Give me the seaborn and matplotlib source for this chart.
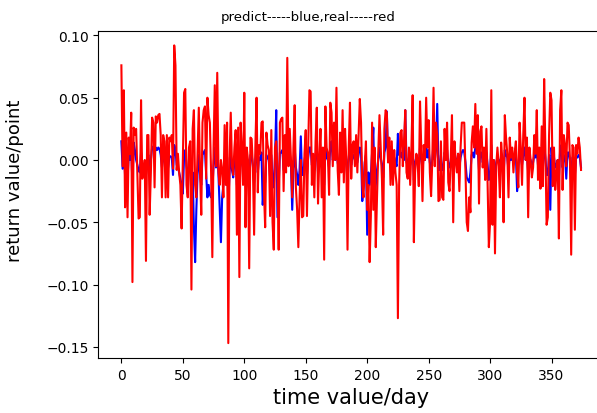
import numpy as np
import pandas as pd
import seaborn as sns
import matplotlib
matplotlib.use("Agg")
import matplotlib.pyplot as plt

# real return values (red)
real = [
    0.076, -0.005, 0.056, -0.038, 0.022, -0.046, 0.018, 0.005, 0.038, -0.098,
    0.026, 0.020, 0.025, -0.010, -0.047, -0.046, 0.048, -0.015, -0.010, 0.000,
    -0.081, 0.020, 0.020, -0.044, -0.010, 0.034, 0.030, -0.022, 0.035, 0.030,
    0.036, 0.037, 0.020, -0.030, 0.020, 0.015, -0.030, 0.020, -0.030, 0.018,
    0.015, 0.020, -0.007, 0.092, 0.076, -0.008, 0.005, -0.010, -0.020, -0.055,
    0.000, 0.054, 0.057, -0.020, -0.030, 0.010, 0.015, -0.104, 0.025, 0.040,
    -0.020, -0.030, 0.005, 0.042, -0.010, -0.044, 0.030, 0.040, 0.043, -0.015,
    0.050, 0.036, 0.030, -0.010, -0.078, 0.010, 0.060, -0.005, 0.070, -0.010,
    -0.020, 0.000, -0.008, -0.030, 0.028, -0.020, 0.030, -0.147, 0.000, 0.038,
    -0.005, -0.012, 0.010, 0.024, -0.060, 0.026, -0.094, 0.030, 0.010, -0.020,
    0.054, -0.054, 0.010, 0.000, -0.087, 0.018, 0.017, -0.005, -0.060, 0.010,
    0.050, -0.026, 0.012, 0.005, 0.030, 0.031, -0.025, -0.054, 0.022, 0.012,
    0.008, -0.045, 0.024, -0.050, -0.072, 0.010, 0.015, -0.010, -0.072, 0.030,
    0.033, 0.034, -0.025, 0.020, -0.010, 0.082, -0.005, 0.025, 0.000, -0.030,
    0.010, 0.044, -0.022, -0.040, -0.070, -0.030, 0.000, -0.046, -0.045, 0.005,
    0.024, -0.045, 0.010, 0.056, 0.055, -0.020, 0.005, -0.030, 0.015, 0.042,
    -0.035, 0.000, 0.025, -0.030, 0.010, -0.080, 0.043, 0.010, 0.005, -0.028,
    0.046, 0.038, -0.005, 0.030, 0.000, 0.058, -0.008, -0.028, 0.022, -0.010,
    0.040, -0.018, 0.025, 0.000, -0.072, 0.010, 0.046, -0.015, 0.012, 0.015,
    -0.005, 0.020, -0.010, 0.020, 0.049, 0.030, -0.020, -0.030, -0.005, 0.015,
    -0.040, -0.020, -0.082, -0.045, 0.030, -0.040, 0.010, -0.070, -0.030, 0.005,
    0.036, 0.010, -0.015, -0.060, 0.025, 0.040, 0.038, -0.002, 0.018, -0.020,
    0.015, -0.020, 0.008, -0.010, -0.020, -0.127, -0.020, 0.022, 0.024, -0.005,
    0.015, 0.040, -0.010, -0.015, 0.010, -0.020, 0.010, 0.052, -0.066, -0.010,
    0.005, 0.000, -0.021, 0.047, 0.010, -0.033, 0.012, 0.000, 0.050, 0.010,
    0.032, -0.010, -0.029, 0.000, 0.058, -0.005, 0.030, 0.020, -0.033, -0.032,
    0.015, -0.030, -0.032, 0.025, 0.000, 0.030, -0.018, -0.025, 0.000, 0.036,
    -0.050, 0.015, 0.000, -0.010, 0.005, -0.025, 0.010, 0.030, 0.030, 0.030,
    -0.010, -0.050, -0.057, -0.030, -0.042, 0.014, 0.027, 0.010, 0.045, 0.005,
    0.036, -0.035, 0.023, 0.027, -0.006, 0.010, -0.016, 0.025, -0.020, -0.070,
    -0.050, 0.056, -0.052, 0.000, -0.075, -0.005, 0.010, -0.004, -0.030, 0.014,
    0.000, -0.050, 0.036, 0.018, 0.005, -0.030, 0.018, 0.002, 0.010, -0.010,
    0.006, 0.015, -0.010, -0.022, 0.030, 0.010, -0.020, 0.020, 0.050, 0.000,
    0.018, -0.046, 0.010, 0.000, -0.014, -0.006, 0.020, 0.005, 0.040, -0.016,
    0.010, -0.023, 0.027, -0.021, 0.065, 0.010, -0.052, -0.046, 0.020, 0.054,
    0.048, -0.021, 0.010, -0.024, -0.011, 0.000, -0.063, 0.040, 0.056, -0.024,
    0.020, 0.012, -0.005, 0.030, 0.028, 0.000, -0.076, 0.012, 0.010, -0.056,
    0.012, 0.005, 0.018, 0.010, -0.008,
]

# predicted return values (blue)
predict = [
    0.015, -0.007, 0.010, -0.012, 0.005, -0.015, 0.004, 0.000, 0.010, -0.020,
    0.014, 0.008, 0.000, -0.004, -0.008, -0.010, 0.006, -0.003, -0.005, -0.008,
    -0.012, 0.002, 0.004, -0.010, 0.000, 0.010, 0.011, 0.005, 0.010, 0.008,
    0.010, 0.009, 0.004, -0.006, 0.003, 0.002, -0.008, 0.004, -0.006, 0.002,
    0.003, 0.002, -0.012, 0.012, 0.008, -0.004, -0.006, -0.010, -0.015, -0.020,
    -0.027, 0.002, 0.008, -0.005, -0.012, -0.006, 0.000, -0.030, -0.010, -0.054,
    -0.082, -0.040, -0.010, 0.004, -0.012, -0.020, 0.004, 0.006, 0.008, -0.012,
    -0.030, -0.020, -0.028, -0.030, -0.024, -0.004, 0.010, -0.006, 0.008, -0.012,
    -0.040, -0.066, -0.030, -0.020, 0.000, -0.012, 0.002, -0.035, -0.010, 0.006,
    -0.008, -0.014, 0.000, 0.004, -0.020, 0.000, -0.030, 0.004, 0.000, -0.006,
    0.010, -0.015, 0.002, -0.004, -0.025, 0.004, 0.004, -0.004, -0.018, 0.000,
    0.010, -0.010, 0.002, 0.000, 0.006, -0.036, -0.020, -0.018, 0.004, 0.002,
    0.000, -0.014, 0.004, -0.016, -0.022, 0.002, 0.040, -0.046, -0.020, 0.006,
    0.006, 0.008, -0.008, 0.004, -0.004, 0.015, -0.002, 0.005, -0.004, -0.040,
    -0.010, 0.010, -0.006, -0.012, -0.020, -0.008, 0.019, -0.012, -0.012, 0.000,
    0.006, -0.012, 0.002, 0.010, 0.010, -0.004, 0.000, -0.008, 0.004, 0.010,
    -0.010, 0.000, 0.004, 0.005, 0.002, -0.020, 0.010, 0.002, 0.000, -0.006,
    0.010, 0.015, 0.000, 0.006, 0.000, 0.012, -0.002, -0.008, 0.004, -0.002,
    0.008, -0.004, 0.006, 0.000, -0.018, 0.002, 0.010, -0.004, 0.002, 0.004,
    0.000, 0.004, -0.002, 0.004, 0.010, 0.006, -0.033, -0.020, -0.002, 0.004,
    -0.060, -0.010, -0.020, -0.012, 0.006, 0.026, -0.030, -0.020, -0.008, 0.000,
    0.010, 0.002, -0.004, -0.014, 0.006, 0.010, 0.039, 0.000, 0.004, -0.004,
    0.004, -0.004, 0.002, -0.002, -0.005, 0.021, 0.004, 0.006, 0.002, 0.008,
    0.000, 0.040, -0.002, -0.004, 0.002, -0.004, 0.002, 0.012, -0.016, -0.002,
    0.002, 0.000, -0.006, 0.010, 0.002, -0.008, 0.004, 0.000, 0.012, 0.002,
    0.008, -0.002, -0.008, 0.000, 0.014, 0.000, 0.008, 0.045, -0.008, -0.008,
    0.004, -0.008, -0.008, 0.006, 0.000, 0.008, -0.004, -0.006, 0.000, 0.008,
    -0.012, 0.004, 0.000, -0.002, 0.005, -0.006, 0.002, 0.006, 0.008, 0.006,
    -0.002, -0.014, -0.016, -0.018, -0.010, 0.004, 0.006, 0.002, 0.010, 0.035,
    0.008, -0.008, 0.006, 0.006, -0.002, 0.002, -0.004, 0.006, -0.004, -0.016,
    -0.012, 0.012, -0.012, 0.000, -0.016, -0.002, 0.002, 0.000, -0.008, 0.004,
    0.000, -0.012, 0.008, 0.004, 0.002, -0.008, 0.004, 0.000, 0.002, -0.002,
    0.002, 0.004, -0.025, -0.006, 0.006, 0.002, -0.004, 0.004, 0.010, 0.000,
    0.004, -0.010, 0.002, 0.000, -0.004, -0.002, 0.004, 0.002, 0.008, -0.004,
    0.002, -0.006, 0.006, -0.004, 0.012, 0.002, -0.012, -0.012, 0.004, -0.040,
    0.010, -0.006, 0.002, -0.006, -0.004, 0.000, -0.014, 0.008, 0.012, -0.006,
    0.004, 0.003, -0.015, 0.006, 0.006, 0.000, -0.016, 0.002, 0.002, -0.012,
    0.002, 0.002, 0.004, 0.002, -0.006,
]

days = np.arange(len(real))

df = pd.DataFrame({'day': days, 'predict': predict, 'real': real})

fig = plt.figure(figsize=(5.97, 4.14), dpi=100)
# axes runs past the right edge, as in the cropped reference
ax = fig.add_axes([98.4 / 597, 55 / 414, 505.6 / 597, 327.5 / 414])

sns.lineplot(data=df, x='day', y='predict', color='blue', linewidth=1.5, ax=ax)
sns.lineplot(data=df, x='day', y='real', color='red', linewidth=1.5, ax=ax)

ax.set_xlabel('time value/day', fontsize=15)
ax.set_ylabel('return value/point', fontsize=13)
ax.yaxis.set_label_coords(-0.148, 0.545)

fig.text(308.5 / 597, 1 - 17 / 414, 'predict-----blue,real-----red',
         ha='center', va='center', fontsize=9.5)

fig.savefig('out.png', dpi=100)
